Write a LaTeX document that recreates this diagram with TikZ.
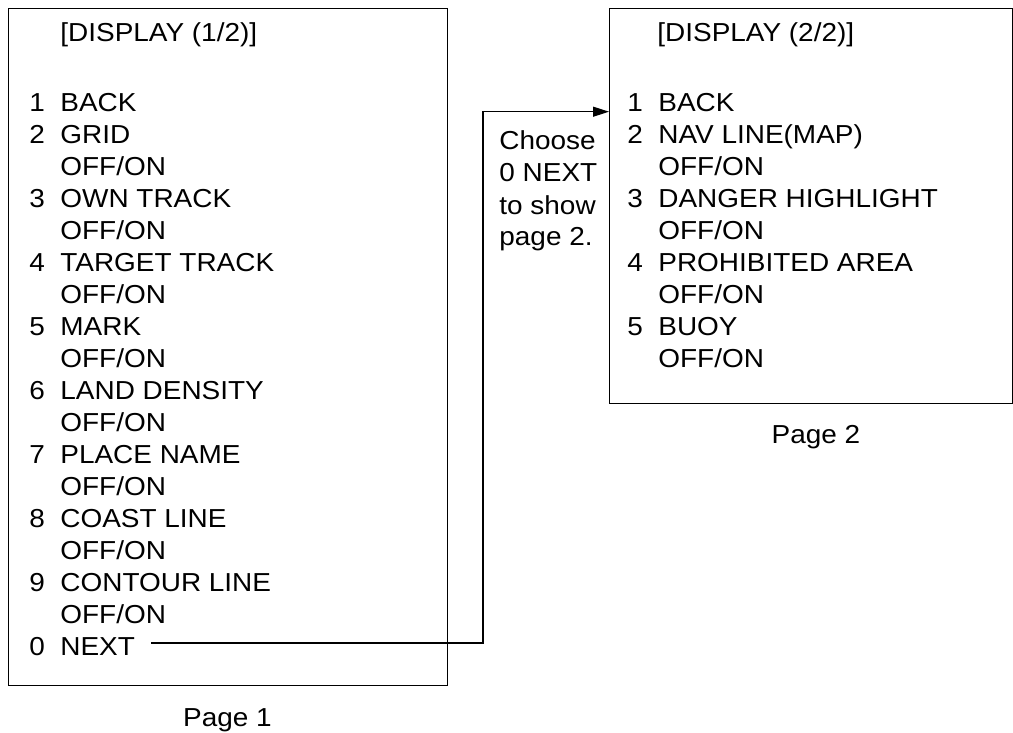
\documentclass[tikz,border=0pt]{standalone}
\usepackage{fontspec}
\setmainfont{Liberation Sans}[FakeStretch=1.075]
\usetikzlibrary{positioning, arrows.meta, calc}

\tikzset{
  pagebox/.style={draw, line width=0.6pt, inner sep=0pt, anchor=north west},
  itemnum/.style={anchor=base west, inner sep=0pt},
  itemtext/.style={anchor=base west, inner sep=0pt},
  pagecap/.style={anchor=base, inner sep=0pt},
  link/.style={line width=0.6pt, -{Triangle[length=8pt, width=5pt]}}
}

\begin{document}
\begin{tikzpicture}[x=0.5pt, y=-0.5pt, font=\fontsize{13}{16}\selectfont]
  \useasboundingbox (0,0) rectangle (1013,733);

  % page 1
  \node[pagebox, minimum width=219.5pt, minimum height=338.5pt] (page1) at (8,8) {};
  \node[itemtext] (title1) at (60,42) {[DISPLAY (1/2)]};
  \foreach \num/\entry/\row in {1/BACK/0, 2/GRID/1, 3/OWN TRACK/3, 4/TARGET TRACK/5,
      5/MARK/7, 6/LAND DENSITY/9, 7/PLACE NAME/11, 8/COAST LINE/13, 9/CONTOUR LINE/15}{
    \node[itemnum] (n1-\num) at (29,111.7+32*\row) {\num};
    \node[itemtext] (t1-\num) at (60,111.7+32*\row) {\entry};
  }
  \foreach \row in {2,4,...,16}
    \node[itemtext] (s1-\row) at (60,111.7+32*\row) {OFF/ON};
  \node[itemnum] (n1-0) at (29,655) {0};
  \node[itemtext] (next) at (60,655) {NEXT};
  \node[pagecap] (cap1) at (227.5,726.7) {Page 1};

  % page 2
  \node[pagebox, minimum width=201.5pt, minimum height=197.5pt] (page2) at (609,8) {};
  \node[itemtext] (title2) at (657,42) {[DISPLAY (2/2)]};
  \foreach \num/\entry/\row in {1/BACK/0, 2/NAV LINE(MAP)/1, 3/DANGER HIGHLIGHT/3,
      4/PROHIBITED AREA/5, 5/BUOY/7}{
    \node[itemnum] (n2-\num) at (627,111.7+32*\row) {\num};
    \node[itemtext] (t2-\num) at (658,111.7+32*\row) {\entry};
  }
  \foreach \row in {2,4,...,8}
    \node[itemtext] (s2-\row) at (658,111.7+32*\row) {OFF/ON};
  \node[pagecap] (cap2) at (816,443) {Page 2};

  % hint and link
  \foreach \line [count=\k from 0] in {Choose, 0 NEXT, to show, page 2.}
    \node[itemtext] (hint\k) at (499,150+32*\k) {\line};
  \coordinate (bend) at (483,111.7);
  \draw[link] ([xshift=8pt, yshift=1.5pt]next.east) -- ([yshift=1.5pt]next.east -| bend)
    -- (bend) -- (bend -| page2.west);
\end{tikzpicture}
\end{document}
